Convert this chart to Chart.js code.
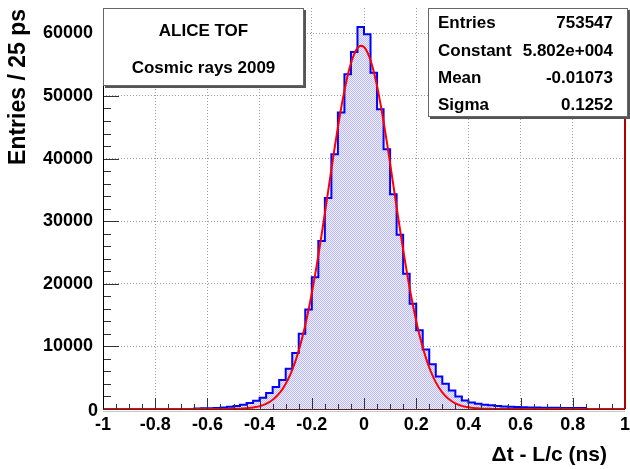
<!DOCTYPE html>
<html>
<head>
<meta charset="utf-8">
<script src="https://cdn.jsdelivr.net/npm/chart.js@4.4.1/dist/chart.umd.min.js"></script>
<style>
  html, body { margin: 0; padding: 0; background: #ffffff; }
  canvas { display: block; }
</style>
</head>
<body>
<canvas id="tof" width="630" height="469"></canvas>
<script>
// Time-of-flight residuals: 80 bins of 25 ps between -1 and 1 ns
const binLow = -1;
const binHigh = 1;
const binCount = 80;
const counts = [
  0, 0, 0, 0, 0, 0, 0, 0, 0, 0,
  0, 0, 0, 0, 80, 100, 130, 170, 240, 350,
  460, 680, 940, 1330, 1800, 2540, 3500, 4620, 6440, 8950,
  12030, 15900, 21030, 26850, 33720, 40700, 47340, 53460, 57020, 61000,
  59840, 53720, 47880, 41500, 34300, 27850, 21600, 16830, 12560, 9500,
  7130, 5210, 4040, 2970, 2010, 1370, 1050, 850, 690, 580,
  470, 400, 350, 310, 280, 250, 230, 210, 190, 180,
  170, 160, 150, 140, 0, 0, 0, 0, 0, 0
];

// Gaussian fit parameters
const fitConstant = 58020;
const fitMean = -0.01073;
const fitSigma = 0.1252;
const entries = 753547;

// Axis ticks
const xTicks = [-1, -0.8, -0.6, -0.4, -0.2, 0, 0.2, 0.4, 0.6, 0.8, 1];
const xTickLabels = ['-1', '-0.8', '-0.6', '-0.4', '-0.2', '0', '0.2', '0.4', '0.6', '0.8', '1'];
const yTicks = [0, 10000, 20000, 30000, 40000, 50000, 60000];
const yTickLabels = ['0', '10000', '20000', '30000', '40000', '50000', '60000'];
const yMax = 64050;

// Text
const headerLines = ['ALICE TOF', 'Cosmic rays 2009'];
const statNames = ['Entries', 'Constant', 'Mean', 'Sigma'];
const xTitle = '\u0394t - L/c (ns)';
const yTitle = 'Entries / 25 ps';

function rootExp(v) {
  const [m, e] = v.toExponential(3).split('e');
  const sign = e[0] === '-' ? '-' : '+';
  const digits = e.replace(/[+-]/, '').padStart(3, '0');
  return m + 'e' + sign + digits;
}
const statValues = [String(entries), rootExp(fitConstant), String(fitMean), String(fitSigma)];

// Histogram outline points at the bin low edges, closed at the upper edge
const binWidth = (binHigh - binLow) / binCount;
const histPoints = counts.map((c, k) => ({ x: binLow + k * binWidth, y: c }));
histPoints.push({ x: binHigh, y: 0 });

// Fit curve sampled over the full axis range
const fitPoints = [];
const fitSamples = 400;
for (let j = 0; j <= fitSamples; j++) {
  const x = binLow + (binHigh - binLow) * j / fitSamples;
  const z = (x - fitMean) / fitSigma;
  fitPoints.push({ x: x, y: fitConstant * Math.exp(-0.5 * z * z) });
}

const FONT = '"Liberation Sans", Arial, Helvetica, sans-serif';

const canvas = document.getElementById('tof');
const ctx = canvas.getContext('2d');

// Dotted fill for the histogram
const pc = document.createElement('canvas');
pc.width = 2; pc.height = 2;
const pctx = pc.getContext('2d');
pctx.fillStyle = 'rgb(238,238,255)';
pctx.fillRect(0, 0, 2, 2);
pctx.fillStyle = 'rgb(186,186,246)';
pctx.fillRect(0, 0, 1, 1);
pctx.fillRect(1, 1, 1, 1);
const fillPattern = ctx.createPattern(pc, 'repeat');

function drawPave(c, x0, y0, x1, y1) {
  c.save();
  c.fillStyle = '#555';
  c.fillRect(x0 + 2, y1, x1 - x0, 2);
  c.fillRect(x1, y0 + 2, 2, y1 - y0);
  c.fillStyle = '#ffffff';
  c.fillRect(x0, y0, x1 - x0, y1 - y0);
  c.strokeStyle = '#666';
  c.lineWidth = 1;
  c.strokeRect(x0 + 0.5, y0 + 0.5, x1 - x0 - 1, y1 - y0 - 1);
  c.restore();
}

const frameDecor = {
  id: 'frameDecor',
  beforeDatasetsDraw(chart) {
    const c = chart.ctx;
    const a = chart.chartArea;
    c.save();
    // x axis line
    c.strokeStyle = '#c8c8c8';
    c.lineWidth = 1;
    c.beginPath();
    c.moveTo(a.left, a.bottom + 2.5);
    c.lineTo(a.right, a.bottom + 2.5);
    c.stroke();
    c.strokeStyle = '#5a2424';
    c.lineWidth = 2;
    c.beginPath();
    c.moveTo(a.left, a.bottom);
    c.lineTo(a.right, a.bottom);
    c.stroke();
    c.restore();
  },
  afterDatasetsDraw(chart) {
    const c = chart.ctx;
    const a = chart.chartArea;
    const xs = chart.scales.x;
    const ys = chart.scales.y;
    c.save();
    c.strokeStyle = '#333';
    c.lineWidth = 1;
    c.beginPath();
    // x ticks, majors every 0.2 and minors every 0.05
    for (let k = 0; k <= 40; k++) {
      const v = binLow + k * 0.05;
      const px = Math.round(xs.getPixelForValue(v)) + 0.5;
      const len = (k % 4 === 0) ? 11 : 5;
      c.moveTo(px, a.bottom);
      c.lineTo(px, a.bottom - len);
    }
    // y ticks, majors every 10000 and minors every 2000
    for (let v = 0; v <= yMax; v += 2000) {
      const py = Math.round(ys.getPixelForValue(v)) + 0.5;
      const len = (v % 10000 === 0) ? 16 : 8;
      c.moveTo(a.left, py);
      c.lineTo(a.left + len, py);
    }
    c.stroke();
    // left axis
    c.strokeStyle = '#000';
    c.beginPath();
    c.moveTo(a.left + 0.5, a.top);
    c.lineTo(a.left + 0.5, a.bottom);
    c.stroke();
    // right frame edge
    c.strokeStyle = '#b00000';
    c.lineWidth = 2;
    c.beginPath();
    c.moveTo(a.right, a.top);
    c.lineTo(a.right, a.bottom);
    c.stroke();
    c.restore();
  },
  afterDraw(chart) {
    const c = chart.ctx;
    const a = chart.chartArea;
    const xs = chart.scales.x;
    const ys = chart.scales.y;

    // tick labels
    c.save();
    c.fillStyle = '#000';
    c.font = 'bold 18px ' + FONT;
    c.textBaseline = 'middle';
    c.textAlign = 'center';
    xTicks.forEach((v, i) => {
      c.fillText(xTickLabels[i], xs.getPixelForValue(v), a.bottom + 16);
    });
    c.textAlign = 'right';
    yTicks.forEach((v, i) => {
      if (v === 0) {
        c.fillText(yTickLabels[i], a.left - 5, ys.getPixelForValue(v) + 2);
      } else {
        c.fillText(yTickLabels[i], a.left - 10, ys.getPixelForValue(v));
      }
    });
    c.restore();

    // header box
    drawPave(c, a.left, a.top, 304, 86);
    c.save();
    c.fillStyle = '#000';
    c.font = 'bold 17px ' + FONT;
    c.textAlign = 'center';
    c.textBaseline = 'middle';
    c.fillText(headerLines[0], (a.left + 304) / 2, 31);
    c.fillText(headerLines[1], (a.left + 304) / 2, 68);
    c.restore();

    // fit statistics box
    drawPave(c, 428, a.top, 628, 117);
    c.save();
    c.fillStyle = '#000';
    c.font = 'bold 17px ' + FONT;
    c.textBaseline = 'middle';
    const rows = [23.5, 51.5, 78.5, 105];
    for (let r = 0; r < statNames.length; r++) {
      c.textAlign = 'left';
      c.fillText(statNames[r], 438, rows[r]);
      c.textAlign = 'right';
      c.fillText(statValues[r], 613, rows[r]);
    }
    c.restore();

    // axis titles
    c.save();
    c.fillStyle = '#000';
    c.font = 'bold 21px ' + FONT;
    c.textAlign = 'right';
    c.textBaseline = 'middle';
    c.fillText(xTitle, 607, 455);
    c.translate(19, 9);
    c.rotate(-Math.PI / 2);
    c.font = 'bold 23px ' + FONT;
    c.fillText(yTitle, 0, 0);
    c.restore();
  }
};

const gridColor = (edgeValues) => (context) => {
  if (context.tick && edgeValues.includes(context.tick.value)) return 'rgba(0,0,0,0)';
  return '#9c9c9c';
};

new Chart(ctx, {
  type: 'line',
  data: {
    datasets: [
      {
        label: 'fit',
        data: fitPoints,
        borderColor: '#ff0000',
        borderWidth: 2,
        pointRadius: 0,
        tension: 0,
        fill: false,
        order: 0
      },
      {
        label: 'hist',
        data: histPoints,
        borderColor: '#0000ff',
        borderWidth: 2,
        pointRadius: 0,
        stepped: 'before',
        fill: 'origin',
        backgroundColor: fillPattern,
        order: 1
      }
    ]
  },
  options: {
    responsive: false,
    animation: false,
    devicePixelRatio: 1,
    layout: { padding: { left: 0, right: 5, top: 8, bottom: 0 } },
    plugins: { legend: { display: false }, tooltip: { enabled: false } },
    scales: {
      x: {
        type: 'linear',
        min: binLow,
        max: binHigh,
        afterBuildTicks: (s) => { s.ticks = xTicks.map(v => ({ value: v })); },
        afterFit: (s) => { s.height = 60; },
        ticks: { display: false },
        grid: { color: gridColor([-1, 1]), drawTicks: false, lineWidth: 1 },
        border: { display: false, dash: [1, 2] }
      },
      y: {
        type: 'linear',
        min: 0,
        max: yMax,
        afterBuildTicks: (s) => { s.ticks = yTicks.map(v => ({ value: v })); },
        afterFit: (s) => { s.width = 103; },
        ticks: { display: false },
        grid: { color: gridColor([0]), drawTicks: false, lineWidth: 1 },
        border: { display: false, dash: [1, 2] }
      }
    }
  },
  plugins: [frameDecor]
});
</script>
</body>
</html>
